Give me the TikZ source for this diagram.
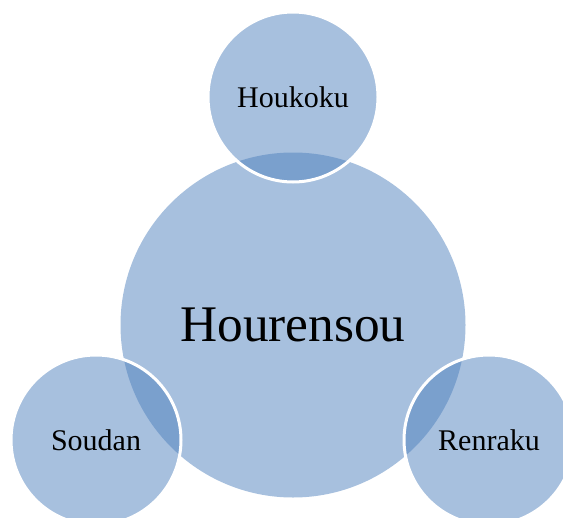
\documentclass[tikz,border=0pt]{standalone}
\usepackage{fontspec}
\setmainfont{Liberation Serif}
\definecolor{accentblue}{RGB}{79,129,189}
\begin{document}
\begin{tikzpicture}[x=0.75pt, y=-0.75pt]
    \tikzstyle{bubble}=[circle, fill=accentblue, fill opacity=0.5, text opacity=1, inner sep=0pt, minimum size=127.5pt, font=\fontsize{22.5}{26}\selectfont]
    \tikzstyle{outer}=[draw=white, line width=2.25pt]
    \tikzstyle{hub}=[bubble, minimum size=258.75pt, font=\fontsize{38.5}{44}\selectfont]

    \useasboundingbox (0,0) rectangle (563,517);
    \clip (0,0) rectangle (563,517);

    \node[hub] (hourensou) at (293,325) {Hourensou};
    \node[bubble, outer] (houkoku) at (293,97) {Houkoku};
    \node[bubble, outer] (soudan) at (96,440) {Soudan};
    \node[bubble, outer] (renraku) at (489,440) {Renraku};
\end{tikzpicture}
\end{document}
